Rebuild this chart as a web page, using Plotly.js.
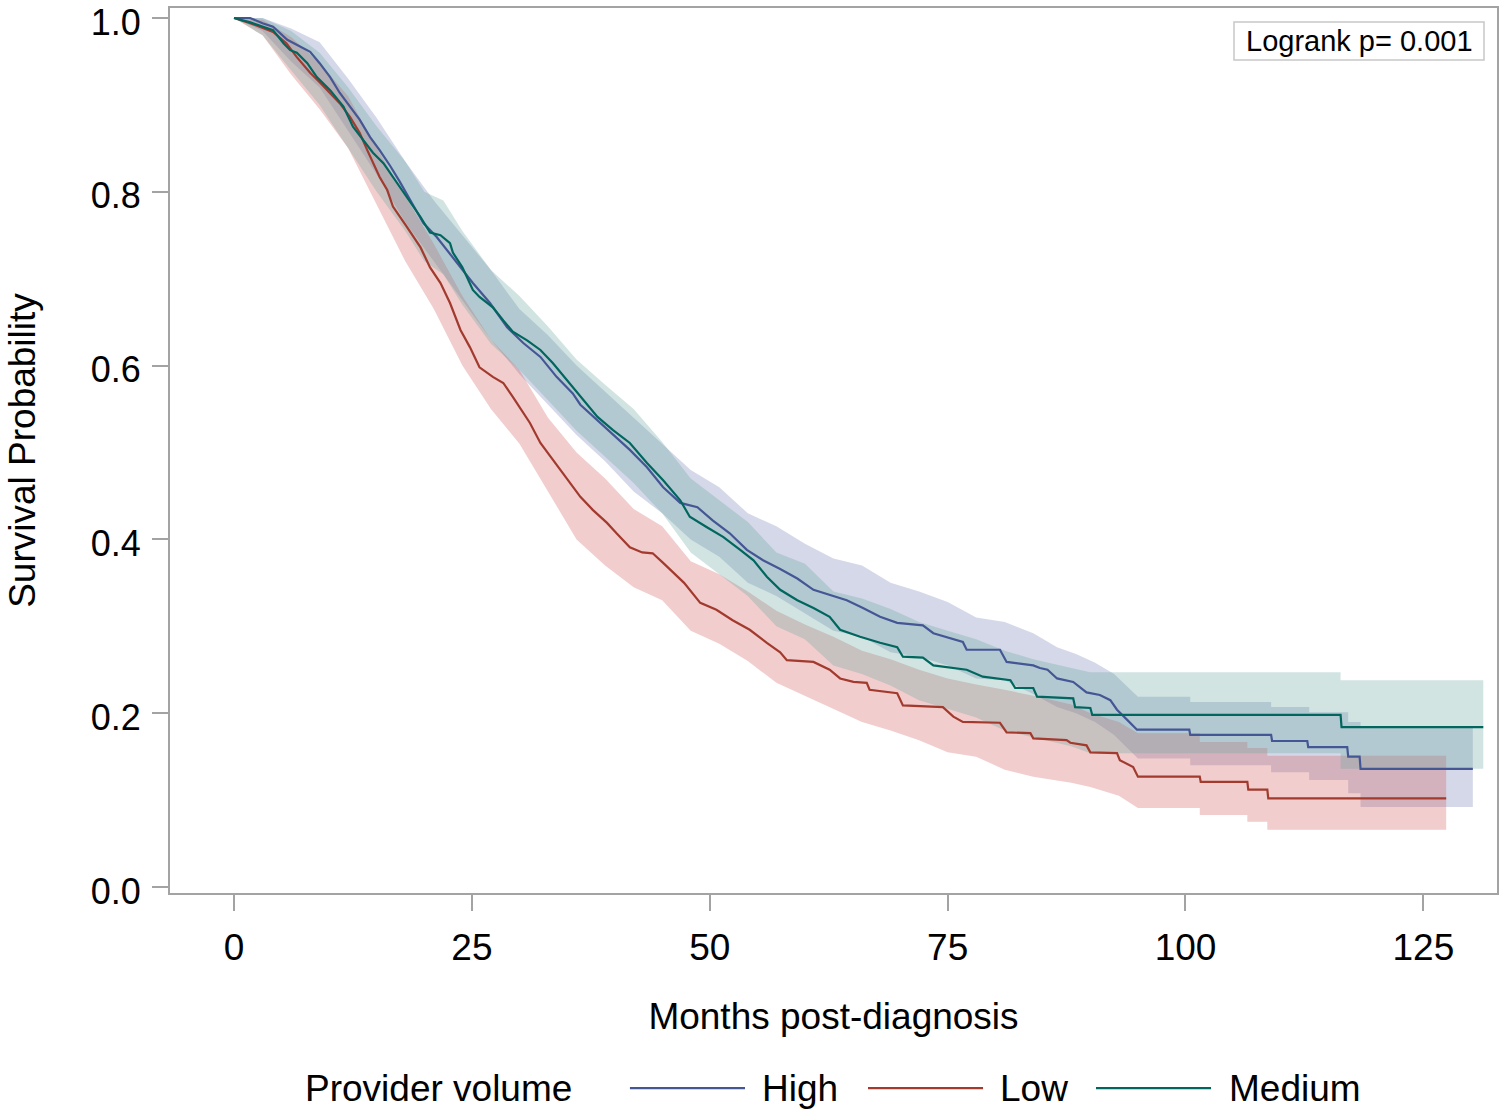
<!DOCTYPE html>
<html><head><meta charset="utf-8">
<script src="https://cdn.plot.ly/plotly-3.0.1.min.js"></script>
<style>body{margin:0;background:#fff}#chart{width:1500px;height:1111px}</style>
</head><body><div id="chart"></div>
<script>
// ---------- DATA ----------
const groupNames = ['High', 'Low', 'Medium'];
const legendTitle = 'Provider volume';
const xTitle = 'Months post-diagnosis';
const yTitle = 'Survival Probability';
const logrankText = 'Logrank p= 0.001';
const xTicks = [0, 25, 50, 75, 100, 125];
const yTicks = [0, 0.2, 0.4, 0.6, 0.8, 1.0];
const yTickLabels = ['0.0', '0.2', '0.4', '0.6', '0.8', '1.0'];

const highTime = [0, 1.7, 3.0, 4.1, 5.6, 6.6, 8.0, 9.0, 10.1, 11.1, 12.2, 13.2, 14.3, 15.3, 16.4, 17.4, 18.8, 19.9, 21.3, 22.4, 23.8, 25.1, 26.9, 28.7, 30.4, 32.2, 33.9, 35.6, 36.4, 38.2, 39.8, 41.6, 43.4, 45.1, 46.9, 48.7, 50.3, 52.1, 53.9, 55.6, 57.4, 59.2, 60.9, 62.6, 64.4, 66.1, 67.9, 69.7, 72.4, 73.5, 76.6, 77.0, 80.5, 81.2, 84.0, 84.7, 85.5, 86.5, 88.2, 89.6, 91.0, 92.1, 92.8, 93.9, 94.9, 100.4, 100.5, 109.0, 109.1, 112.8, 112.9, 117.0, 117.1, 118.3, 118.4, 130.2];
const highSurv = [1.0, 1.0, 0.994, 0.99, 0.975, 0.969, 0.961, 0.948, 0.932, 0.914, 0.898, 0.883, 0.863, 0.848, 0.83, 0.812, 0.785, 0.764, 0.748, 0.733, 0.713, 0.695, 0.672, 0.644, 0.626, 0.61, 0.587, 0.568, 0.555, 0.537, 0.522, 0.503, 0.483, 0.46, 0.442, 0.437, 0.422, 0.407, 0.388, 0.376, 0.366, 0.355, 0.342, 0.336, 0.33, 0.321, 0.311, 0.304, 0.301, 0.292, 0.282, 0.273, 0.273, 0.259, 0.255, 0.252, 0.25, 0.24, 0.236, 0.224, 0.221, 0.215, 0.204, 0.192, 0.181, 0.181, 0.175, 0.175, 0.168, 0.168, 0.161, 0.161, 0.15, 0.15, 0.136, 0.136];

const lowTime = [0, 1.7, 4.1, 4.8, 5.5, 6.6, 8.0, 9.0, 10.1, 11.1, 12.2, 13.2, 14.0, 14.6, 15.3, 16.1, 16.7, 18.2, 19.6, 20.6, 21.7, 22.7, 23.8, 24.8, 25.8, 27.2, 28.3, 29.3, 31.1, 32.2, 34.3, 36.4, 37.7, 39.2, 40.2, 41.6, 42.9, 44.0, 45.1, 46.6, 47.3, 49.0, 50.7, 52.4, 54.2, 56.0, 57.4, 58.1, 60.9, 62.6, 63.7, 65.1, 66.5, 66.8, 69.7, 70.3, 74.5, 75.6, 76.6, 80.5, 81.2, 83.7, 84.0, 87.5, 87.9, 89.6, 90.0, 92.8, 93.1, 94.5, 95.0, 101.5, 101.6, 106.5, 106.6, 108.6, 108.7, 127.4];
const lowSurv = [1.0, 0.994, 0.984, 0.977, 0.971, 0.955, 0.937, 0.926, 0.914, 0.902, 0.886, 0.868, 0.848, 0.833, 0.817, 0.802, 0.783, 0.759, 0.736, 0.713, 0.695, 0.672, 0.641, 0.621, 0.598, 0.587, 0.58, 0.564, 0.534, 0.511, 0.48, 0.449, 0.434, 0.419, 0.407, 0.391, 0.385, 0.384, 0.373, 0.357, 0.35, 0.327, 0.319, 0.307, 0.296, 0.281, 0.27, 0.261, 0.259, 0.25, 0.24, 0.236, 0.235, 0.227, 0.223, 0.209, 0.207, 0.196, 0.19, 0.189, 0.178, 0.177, 0.171, 0.169, 0.166, 0.163, 0.155, 0.154, 0.146, 0.138, 0.127, 0.127, 0.121, 0.121, 0.112, 0.112, 0.102, 0.102];

const medTime = [0, 1.7, 4.1, 5.2, 5.9, 6.6, 7.7, 8.7, 10.1, 11.5, 12.5, 13.6, 14.6, 15.7, 16.7, 17.8, 19.6, 20.6, 21.7, 22.7, 23.0, 24.0, 25.1, 25.8, 27.2, 28.3, 29.3, 30.8, 32.2, 33.5, 35.0, 36.4, 38.2, 39.8, 41.6, 43.4, 45.1, 46.9, 47.9, 49.7, 51.4, 53.2, 54.6, 56.0, 57.4, 59.2, 60.9, 62.6, 63.7, 65.8, 67.9, 69.7, 70.3, 72.4, 73.5, 77.0, 78.7, 81.6, 82.1, 84.0, 84.4, 88.2, 88.4, 90.0, 90.2, 116.3, 116.4, 131.3];
const medSurv = [1.0, 0.995, 0.986, 0.971, 0.963, 0.96, 0.948, 0.932, 0.917, 0.898, 0.875, 0.86, 0.845, 0.833, 0.817, 0.8, 0.771, 0.753, 0.75, 0.741, 0.73, 0.713, 0.687, 0.679, 0.667, 0.652, 0.639, 0.629, 0.618, 0.603, 0.583, 0.564, 0.541, 0.526, 0.511, 0.488, 0.468, 0.445, 0.426, 0.414, 0.403, 0.388, 0.376, 0.357, 0.342, 0.33, 0.321, 0.311, 0.296, 0.288, 0.281, 0.276, 0.265, 0.264, 0.255, 0.25, 0.242, 0.238, 0.229, 0.229, 0.219, 0.217, 0.207, 0.206, 0.198, 0.198, 0.184, 0.184];

// confidence bands (lower / upper limits)
const highBandTime = [0, 3, 6, 9, 12, 15, 18, 21, 24, 27, 30, 33, 36, 39, 42, 45, 48, 51, 54, 57, 60, 63, 66, 69, 72, 75, 78, 81, 84, 86.5, 88.5, 90.5, 92.5, 95, 100.5, 100.5, 109, 109, 113, 113, 117.1, 117.1, 118.4, 118.4, 130.2];
const highLower = [1, 0.985, 0.95, 0.92, 0.87, 0.82, 0.765, 0.72, 0.675, 0.63, 0.59, 0.555, 0.52, 0.49, 0.455, 0.43, 0.4, 0.38, 0.35, 0.335, 0.315, 0.295, 0.288, 0.27, 0.265, 0.255, 0.24, 0.238, 0.222, 0.207, 0.2, 0.19, 0.175, 0.148, 0.148, 0.14, 0.14, 0.132, 0.132, 0.123, 0.123, 0.108, 0.108, 0.092, 0.092];
const highUpper = [1, 1.0, 0.988, 0.972, 0.93, 0.885, 0.835, 0.79, 0.75, 0.71, 0.665, 0.635, 0.6, 0.57, 0.54, 0.51, 0.48, 0.46, 0.43, 0.415, 0.395, 0.378, 0.37, 0.35, 0.34, 0.328, 0.31, 0.305, 0.292, 0.276, 0.268, 0.258, 0.245, 0.219, 0.219, 0.213, 0.213, 0.207, 0.207, 0.201, 0.201, 0.19, 0.19, 0.183, 0.183];

const lowBandTime = [0, 3, 6, 9, 12, 15, 18, 21, 24, 27, 30, 33, 36, 39, 42, 45, 48, 51, 54, 57, 60, 63, 66, 69, 72, 75, 78, 81, 84, 88, 90, 93, 95, 101.5, 101.5, 106.5, 106.5, 108.6, 108.6, 127.4];
const lowLower = [1, 0.98, 0.935, 0.895, 0.85, 0.785, 0.72, 0.665, 0.6, 0.55, 0.51, 0.455, 0.4, 0.37, 0.345, 0.33, 0.295, 0.28, 0.26, 0.235, 0.22, 0.205, 0.19, 0.18, 0.169, 0.155, 0.15, 0.135, 0.127, 0.12, 0.115, 0.105, 0.091, 0.091, 0.083, 0.083, 0.075, 0.075, 0.066, 0.066];
const lowUpper = [1, 0.998, 0.978, 0.948, 0.91, 0.85, 0.795, 0.74, 0.68, 0.63, 0.595, 0.54, 0.5, 0.47, 0.435, 0.415, 0.375, 0.36, 0.34, 0.318, 0.302, 0.288, 0.272, 0.262, 0.25, 0.24, 0.233, 0.227, 0.22, 0.21, 0.2, 0.19, 0.177, 0.177, 0.167, 0.167, 0.16, 0.16, 0.151, 0.151];

const medBandTime = [0, 3, 6, 9, 12, 15, 18, 20, 22, 24, 27, 30, 33, 36, 39, 42, 45, 48, 51, 54, 57, 60, 63, 66, 69, 72, 75, 78, 81, 84, 88, 90, 116.3, 116.3, 131.3];
const medLower = [1, 0.98, 0.94, 0.9, 0.85, 0.8, 0.755, 0.72, 0.705, 0.67, 0.625, 0.595, 0.56, 0.525, 0.495, 0.465, 0.43, 0.385, 0.36, 0.335, 0.3, 0.285, 0.255, 0.245, 0.232, 0.215, 0.205, 0.195, 0.18, 0.172, 0.162, 0.154, 0.154, 0.136, 0.136];
const medUpper = [1, 1.0, 0.985, 0.96, 0.92, 0.875, 0.835, 0.8, 0.79, 0.755, 0.71, 0.68, 0.645, 0.607, 0.578, 0.55, 0.512, 0.47, 0.445, 0.42, 0.385, 0.372, 0.34, 0.332, 0.32, 0.305, 0.295, 0.285, 0.272, 0.262, 0.252, 0.247, 0.247, 0.238, 0.238];

// ---------- STYLE ----------
const lineColors = ['#445694', '#A23A2E', '#01665E'];
const bandColors = ['rgba(111,126,179,0.30)', 'rgba(208,91,91,0.30)', 'rgba(102,165,160,0.30)'];
const FONT = 'Liberation Sans, Arial, Helvetica, sans-serif';
const axisColor = '#A3A3A3';

const curves = [
  {t: highTime, s: highSurv, bt: highBandTime, lo: highLower, hi: highUpper},
  {t: lowTime, s: lowSurv, bt: lowBandTime, lo: lowLower, hi: lowUpper},
  {t: medTime, s: medSurv, bt: medBandTime, lo: medLower, hi: medUpper}
];

const traces = [];
curves.forEach((c, i) => {
  traces.push({x: c.bt, y: c.lo, type: 'scatter', mode: 'lines', line: {width: 0}, hoverinfo: 'skip', showlegend: false});
  traces.push({x: c.bt, y: c.hi, type: 'scatter', mode: 'lines', line: {width: 0}, fill: 'tonexty', fillcolor: bandColors[i], hoverinfo: 'skip', showlegend: false});
});
curves.forEach((c, i) => {
  traces.push({x: c.t, y: c.s, type: 'scatter', mode: 'lines', name: groupNames[i], line: {color: lineColors[i], width: 2.2}, showlegend: false});
});

// manual legend (paper coordinates)
const legY = -0.2205;
const legendItems = [
  {x0: 0.3466, x1: 0.4333, tx: 0.4446},
  {x0: 0.5260, x1: 0.6127, tx: 0.6240},
  {x0: 0.6978, x1: 0.7845, tx: 0.7965}
];
const shapes = [];
const annotations = [];
legendItems.forEach((it, i) => {
  shapes.push({type: 'line', xref: 'paper', yref: 'paper', x0: it.x0, x1: it.x1, y0: legY, y1: legY, line: {color: lineColors[i], width: 2.2}});
  annotations.push({xref: 'paper', yref: 'paper', x: it.tx, y: legY, xanchor: 'left', yanchor: 'middle', text: groupNames[i], showarrow: false, font: {size: 37, family: FONT, color: '#000'}});
});
annotations.push({xref: 'paper', yref: 'paper', x: 0.3045, y: legY, xanchor: 'right', yanchor: 'middle', text: legendTitle, showarrow: false, font: {size: 37, family: FONT, color: '#000'}});
// logrank box
shapes.push({type: 'rect', xref: 'paper', yref: 'paper', x0: (1234-170)/1327, x1: (1484-170)/1327, y0: (893-60)/885, y1: (893-22)/885, line: {color: '#C8C8C8', width: 1.5}, fillcolor: '#fff'});
annotations.push({xref: 'paper', yref: 'paper', x: (1359-170)/1327, y: (893-41)/885, xanchor: 'center', yanchor: 'middle', text: logrankText, showarrow: false, font: {size: 29, family: FONT, color: '#000'}});

const layout = {
  width: 1500, height: 1111,
  margin: {l: 170, r: 3, t: 8, b: 218},
  paper_bgcolor: '#fff', plot_bgcolor: '#fff',
  showlegend: false,
  font: {family: FONT, color: '#000', size: 37},
  xaxis: {
    range: [-6.73, 132.74], tickvals: xTicks, ticks: 'outside', ticklen: 16, tickwidth: 2, tickcolor: axisColor,
    showline: true, linecolor: axisColor, linewidth: 2, mirror: true, showgrid: false, zeroline: false,
    tickfont: {size: 37, family: FONT, color: '#000'}, ticklabelstandoff: 5,
    title: {text: xTitle, font: {size: 37, family: FONT, color: '#000'}, standoff: 36}
  },
  yaxis: {
    range: [-0.0069, 1.0115], tickvals: yTicks, ticktext: yTickLabels, ticks: 'outside', ticklen: 16, tickwidth: 2, tickcolor: axisColor,
    showline: true, linecolor: axisColor, linewidth: 2, mirror: true, showgrid: false, zeroline: false,
    tickfont: {size: 36, family: FONT, color: '#000'}, ticklabeloverflow: 'allow', ticklabelstandoff: 4, ticklabelshift: 4,
    title: {text: yTitle, font: {size: 37, family: FONT, color: '#000'}, standoff: 44}
  },
  shapes: shapes,
  annotations: annotations
};

Plotly.newPlot('chart', traces, layout, {displayModeBar: false, staticPlot: true});
</script>
</body></html>
